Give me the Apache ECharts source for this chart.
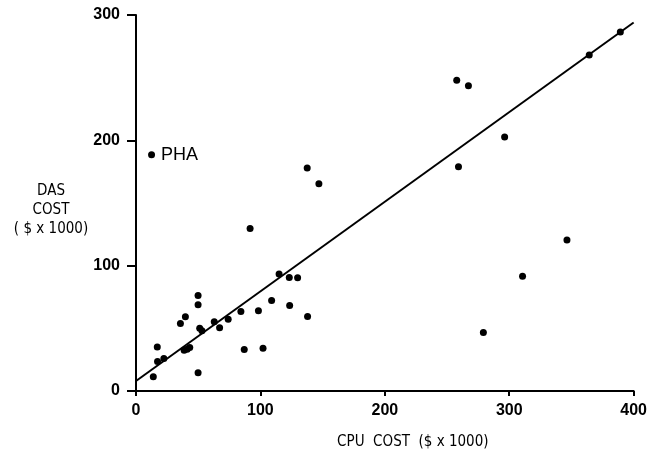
<!DOCTYPE html>
<html>
<head>
<meta charset="utf-8">
<script src="https://cdn.jsdelivr.net/npm/echarts@6/dist/echarts.min.js"></script>
<style>
html,body{margin:0;padding:0;background:#fff;}
#chart{width:650px;height:457px;}
</style>
</head>
<body>
<div id="chart"></div>
<script>
// CPU cost (x) and DAS cost (y), both in $ x 1000
var cpuCost = [13.9, 17.1, 17.3, 22.4, 35.7, 38.7, 39.7, 41.1, 43.2, 49.9, 49.9, 49.9, 51.2, 53.0, 62.9, 67.2, 74.1, 84.3, 87.0, 91.7, 98.4, 102.1, 109.0, 115.0, 123.2, 123.5, 129.9, 137.9, 137.6, 147.0, 257.8, 267.2, 259.2, 279.2, 296.3, 310.7, 346.4, 364.3, 389.3];
var dasCost = [11.4, 35.2, 23.5, 26.0, 53.9, 32.5, 59.3, 33.3, 34.7, 76.2, 68.8, 14.6, 50.0, 48.0, 55.2, 50.4, 57.3, 63.5, 33.1, 129.6, 64.0, 34.1, 72.2, 93.3, 90.6, 68.2, 90.4, 59.5, 178.0, 165.4, 248.0, 243.5, 179.0, 46.7, 202.7, 91.5, 120.5, 268.0, 286.4];
// Labelled outlier
var phaPoint = [12.5, 188.5];
var phaLabel = 'PHA';
// Fitted line endpoints
var fitX = [0, 400];
var fitY = [8, 294];
// Axis ticks
var xTicks = [0, 100, 200, 300, 400];
var yTicks = [0, 100, 200, 300];
// Axis titles
var xTitle = 'CPU  COST  ($ x 1000)';
var yTitle = 'DAS\nCOST\n( $ x 1000)';

var pts = cpuCost.map(function (x, i) { return [x, dasCost[i]]; });
var fit = fitX.map(function (x, i) { return [x, fitY[i]]; });

var chart = echarts.init(document.getElementById('chart'));
var tickFont = { color: '#000', fontSize: 16, fontFamily: 'Liberation Sans, Arial, sans-serif', fontWeight: 'bold' };
var titleFont = 'Liberation Sans Narrow, DejaVu Sans Condensed, sans-serif';
chart.setOption({
  backgroundColor: '#fff',
  animation: false,
  grid: { left: 136, right: 13, top: 15, bottom: 66 },
  graphic: [{
    type: 'text', x: 51, y: 210,
    style: { text: yTitle, fill: '#000', fontSize: 15, fontFamily: titleFont, align: 'center', verticalAlign: 'middle', lineHeight: 19 }
  }],
  xAxis: {
    type: 'value', min: xTicks[0], max: xTicks[xTicks.length - 1], interval: 100,
    axisLine: { lineStyle: { color: '#000', width: 2 } },
    axisTick: { show: true, inside: false, length: 5, lineStyle: { color: '#000', width: 2 } },
    axisLabel: Object.assign({ margin: 12 }, tickFont),
    splitLine: { show: false },
    name: xTitle,
    nameLocation: 'middle',
    nameGap: 44,
    nameTextStyle: { color: '#000', fontSize: 15, fontFamily: titleFont, padding: [0, 0, 0, 56] }
  },
  yAxis: {
    type: 'value', min: yTicks[0], max: yTicks[yTicks.length - 1], interval: 100,
    axisLine: { show: true, lineStyle: { color: '#000', width: 2 } },
    axisTick: { show: true, inside: false, length: 9, lineStyle: { color: '#000', width: 2 } },
    axisLabel: Object.assign({ margin: 16 }, tickFont),
    splitLine: { show: false }
  },
  series: [
    {
      type: 'line', data: fit, symbol: 'none', silent: true,
      lineStyle: { color: '#000', width: 2 }, z: 2
    },
    {
      type: 'scatter', data: pts, symbol: 'circle', symbolSize: 7,
      itemStyle: { color: '#000', opacity: 1 }, z: 3
    },
    {
      type: 'scatter', data: [phaPoint], symbol: 'circle', symbolSize: 7,
      itemStyle: { color: '#000', opacity: 1 }, z: 3,
      label: { show: true, position: 'right', distance: 6, formatter: phaLabel, color: '#000', fontSize: 18, fontFamily: 'Liberation Sans, Arial, sans-serif' }
    }
  ]
});
</script>
</body>
</html>
